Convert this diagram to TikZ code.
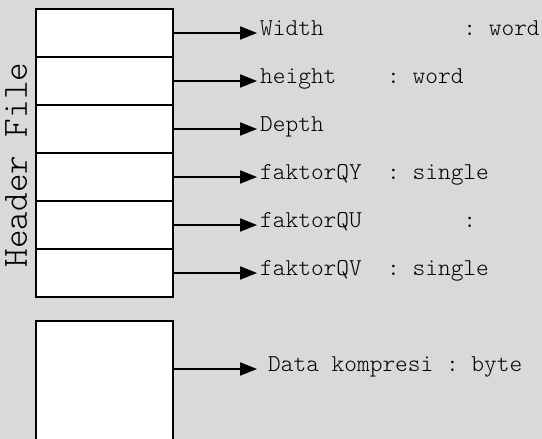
\documentclass[tikz,border=0pt]{standalone}
\usepackage{fontspec}
\setmonofont{Latin Modern Mono Light}
\usetikzlibrary{arrows.meta,positioning,fit}
\definecolor{bggray}{RGB}{217,217,217}

\begin{document}
\begin{tikzpicture}[x=1pt, y=-1pt,
    field/.style={rectangle, draw, line width=1.3pt, fill=white,
      minimum width=137pt, minimum height=48pt, inner sep=0pt, outer sep=0pt},
    frame/.style={rectangle, draw, line width=2pt, inner sep=0pt},
    lbl/.style={font=\fontsize{24.2}{27}\ttfamily, anchor=base west, inner sep=0pt},
    arr/.style={line width=2pt, shorten >=3pt, -{Triangle[length=17pt,width=13pt]}}
  ]

  % --- page and background ---
  \path[use as bounding box] (0,0) rectangle (542,439);
  \clip (0,0) rectangle (542,439);
  \fill[bggray] (0,0) rectangle (542,439);

  % --- header fields ---
  \node[field] (r1) at (104.5,33) {};
  \node[field, below=0pt of r1] (r2) {};
  \node[field, below=0pt of r2] (r3) {};
  \node[field, below=0pt of r3] (r4) {};
  \node[field, below=0pt of r4] (r5) {};
  \node[field, below=0pt of r5] (r6) {};
  \node[frame, fit=(r1)(r6)] (header) {};

  \node[font=\fontsize{35.4}{38}\ttfamily, rotate=90, anchor=base, inner sep=0pt]
    (hdr) at (27,165) {Header File};

  % --- field names ---
  \node[lbl] (lwidth) at ([xshift=87pt, yshift=-2.5pt]r1.east) {Width~~~~~~~~~~~: word};
  \node[lbl] (lheight) at ([xshift=87pt, yshift=-2.5pt]r2.east) {height~~~~: word};
  \node[lbl] (ldepth) at ([xshift=87pt, yshift=-2.5pt]r3.east) {Depth};
  \node[lbl] (lqy) at ([xshift=87pt, yshift=-2.5pt]r4.east) {faktorQY~~: single};
  \node[lbl] (lqu) at ([xshift=87pt, yshift=-2.5pt]r5.east) {faktorQU~~~~~~~~:};
  \node[lbl] (lqv) at ([xshift=87pt, yshift=-2.5pt]r6.east) {faktorQV~~: single};

  \draw[arr] (r1.east) -- (r1.east -| lwidth.west);
  \draw[arr] (r2.east) -- (r2.east -| lheight.west);
  \draw[arr] (r3.east) -- (r3.east -| ldepth.west);
  \draw[arr] (r4.east) -- (r4.east -| lqy.west);
  \draw[arr] (r5.east) -- (r5.east -| lqu.west);
  \draw[arr] (r6.east) -- (r6.east -| lqv.west);

  % --- compressed data ---
  \node[field, line width=2pt, minimum height=124pt, anchor=north] (data) at (104.5,321) {};
  \coordinate (dataout) at ([yshift=14pt]data.east);
  \node[lbl] (ldata) at ([xshift=95pt, yshift=-2.5pt]dataout) {Data kompresi : byte};
  \draw[arr, shorten >=11pt] (dataout) -- (dataout -| ldata.west);
\end{tikzpicture}
\end{document}
